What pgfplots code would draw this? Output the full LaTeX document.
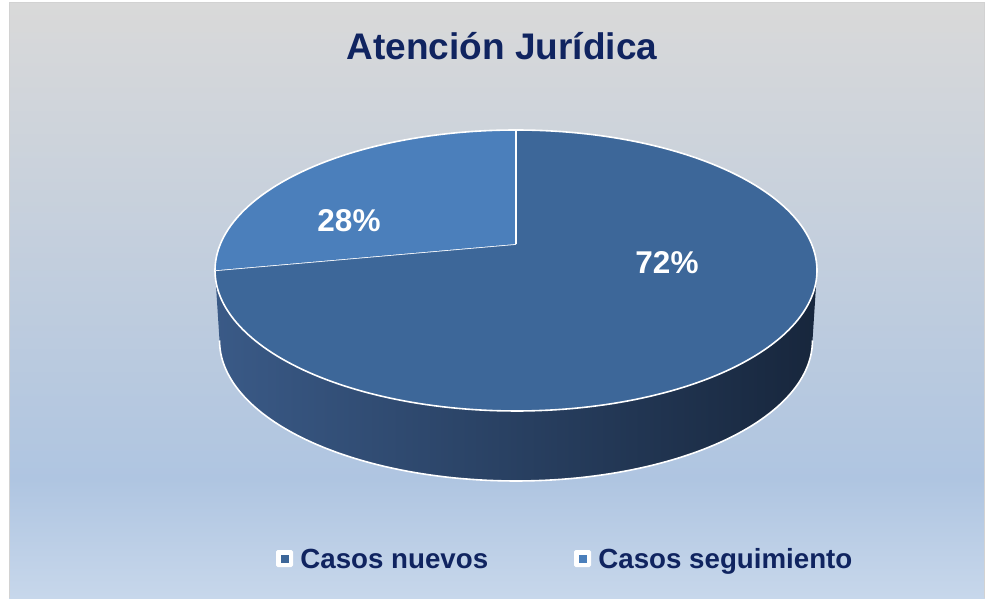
\documentclass[border=0pt]{standalone}
\usepackage{pgfplots}
\pgfplotsset{compat=1.18}
\usepackage{pgfplotstable}
\usepackage{fontspec}
\setmainfont{Liberation Sans}
\definecolor{titlecol}{RGB}{16,36,96}
\definecolor{sliceA}{RGB}{61,103,153}
\definecolor{sliceB}{RGB}{75,127,187}
\definecolor{sideL}{RGB}{58,90,135}
\definecolor{sideR}{RGB}{23,38,60}
\definecolor{bgtop}{RGB}{217,217,217}
\definecolor{bgmid}{RGB}{175,197,225}
\definecolor{bgbot}{RGB}{199,215,235}
\pgfdeclareverticalshading{bgshade}{100bp}{color(0bp)=(bgbot); color(25bp)=(bgbot); color(35bp)=(bgmid); color(75bp)=(bgtop); color(100bp)=(bgtop)}

\pgfplotstableread{
label value
nuevos 72
seguimiento 28
}\pietable
\pgfplotstablegetelem{0}{value}\of\pietable \let\va\pgfplotsretval
\pgfplotstablegetelem{1}{value}\of\pietable \let\vb\pgfplotsretval
\pgfmathsetmacro\split{90+360*\vb/(\va+\vb)}

\begin{document}
\begin{tikzpicture}
\begin{axis}[
  width=492.5pt, height=299pt, scale only axis,
  xmin=0, xmax=985, ymin=0, ymax=598, y dir=reverse,
  hide axis, clip=false,
  declare function={
    px(\r,\t)=516+\r*295.6*cos(\t)/(1+0.1886*\r*sin(\t));
    py(\r,\t)=(244-\r*89.48*sin(\t))/(1+0.1886*\r*sin(\t));
    sk(\s)=(\s>200);
    su(\s)=\s-201*sk(\s);
    sT(\s)=190.87+158.26*((1-sk(\s))*su(\s)/200+sk(\s)*(1-su(\s)/200));
  },
]
% background
\fill[white] (axis cs:0,0) rectangle (axis cs:985,598);
\shade[shading=bgshade] (axis cs:9,3) rectangle (axis cs:985,598);
\draw[gray!35, line width=0.5pt] (axis cs:9,598) -- (axis cs:9,3) -- (axis cs:984,3) -- (axis cs:984,598);

% side of the pie
\addplot[draw=none, left color=sideL, right color=sideR, variable=\s, samples at={0,1,...,401}]
  ({516+(1-0.015*sk(\s))*(px(1,sT(\s))-516)}, {py(1,sT(\s))+70*sk(\s)});
\addplot[draw=white, line width=0.8pt, domain=190.87:349.13, samples=120]
  ({516+0.985*(px(1,x)-516)}, {py(1,x)+70});

% top faces
\addplot[fill=sliceA, draw=white, line width=0.8pt, line join=round, variable=\s, samples at={-1,0,1,...,200}]
  ({px((\s>-0.5), \split+(450-\split)*max(\s,0)/200)}, {py((\s>-0.5), \split+(450-\split)*max(\s,0)/200)});
\addplot[fill=sliceB, draw=white, line width=0.8pt, line join=round, variable=\s, samples at={-1,0,1,...,200}]
  ({px((\s>-0.5), 90+(\split-90)*max(\s,0)/200)}, {py((\s>-0.5), 90+(\split-90)*max(\s,0)/200)});

% data labels
\node[text=white, font=\bfseries\fontsize{15.75}{17}\selectfont, inner sep=0] at (axis cs:349,221) {\vb\%};
\node[text=white, font=\bfseries\fontsize{15.75}{17}\selectfont, inner sep=0] at (axis cs:667,263) {\va\%};

% title
\node[anchor=base, text=titlecol, font=\bfseries\fontsize{18.5}{20}\selectfont, inner sep=0] at (axis cs:502,60) {Atención Jurídica};

% legend
\fill[white, rounded corners=0.8pt] (axis cs:276,550) rectangle (axis cs:293,567);
\fill[sliceA] (axis cs:280.5,554.5) rectangle (axis cs:288.5,562.5);
\node[anchor=base west, text=titlecol, font=\bfseries\fontsize{13.85}{15}\selectfont, inner sep=0] at (axis cs:300,568) {Casos nuevos};
\fill[white, rounded corners=0.8pt] (axis cs:574,550) rectangle (axis cs:591,567);
\fill[sliceB] (axis cs:578.5,554.5) rectangle (axis cs:586.5,562.5);
\node[anchor=base west, text=titlecol, font=\bfseries\fontsize{13.85}{15}\selectfont, inner sep=0] at (axis cs:598,568) {Casos seguimiento};
\end{axis}
\end{tikzpicture}
\end{document}
